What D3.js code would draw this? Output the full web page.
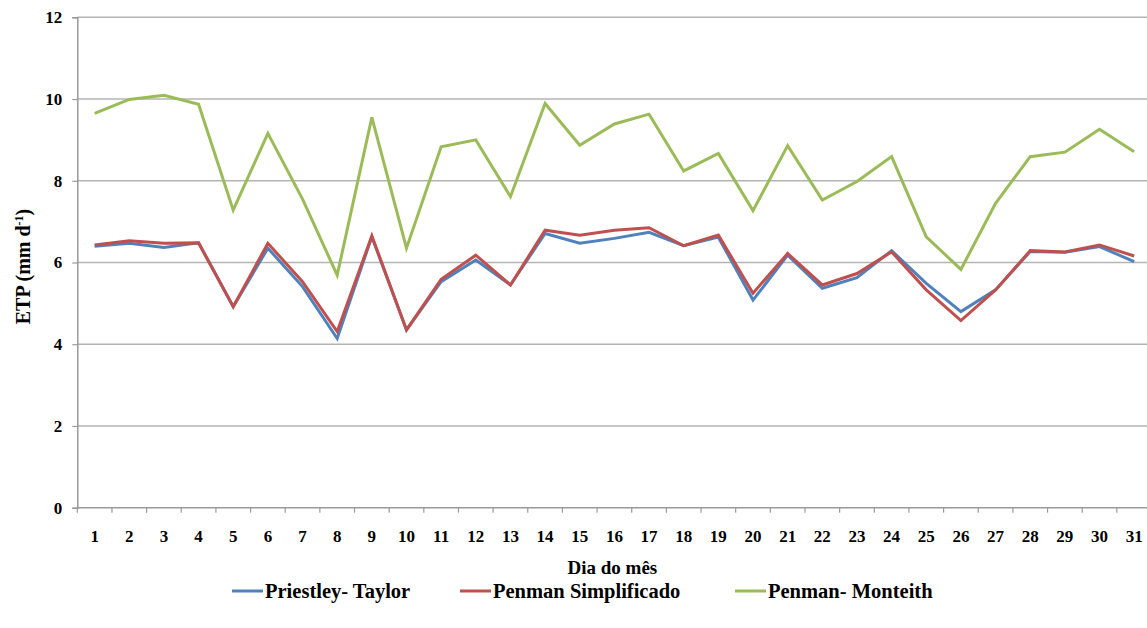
<!DOCTYPE html>
<html>
<head>
<meta charset="utf-8">
<script src="https://cdn.jsdelivr.net/npm/d3@7"></script>
<style>
  html, body { margin: 0; padding: 0; background: #fff; }
  svg { display: block; }
</style>
</head>
<body>
<svg id="chart" width="1147" height="628"></svg>
<script>
// Daily reference evapotranspiration (mm d-1) by three methods
const days = d3.range(1, 32);
const priestleyTaylor = [6.40, 6.47, 6.37, 6.48, 4.92, 6.35, 5.41, 4.14, 6.63, 4.35,
  5.53, 6.06, 5.45, 6.71, 6.47, 6.59, 6.74, 6.41, 6.62, 5.08,
  6.18, 5.37, 5.63, 6.29, 5.49, 4.80, 5.33, 6.27, 6.25, 6.39, 6.02];
const penmanSimplificado = [6.43, 6.53, 6.47, 6.48, 4.92, 6.47, 5.53, 4.31, 6.65, 4.35,
  5.59, 6.18, 5.45, 6.79, 6.67, 6.79, 6.85, 6.41, 6.67, 5.25,
  6.22, 5.45, 5.73, 6.26, 5.33, 4.58, 5.33, 6.29, 6.26, 6.43, 6.16];
const penmanMonteith = [9.65, 9.99, 10.09, 9.87, 7.28, 9.16, 7.55, 5.69, 9.55, 6.35,
  8.83, 9.00, 7.61, 9.89, 8.87, 9.39, 9.63, 8.24, 8.67, 7.27,
  8.86, 7.53, 7.98, 8.59, 6.63, 5.83, 7.45, 8.59, 8.70, 9.26, 8.71];
const yTicks = [0, 2, 4, 6, 8, 10, 12];

const series = [
  { name: "Priestley- Taylor", values: priestleyTaylor, color: "#4F81BD" },
  { name: "Penman Simplificado", values: penmanSimplificado, color: "#C0504D" },
  { name: "Penman- Monteith", values: penmanMonteith, color: "#9BBB59" }
];

const FONT = "'Liberation Serif', 'Times New Roman', Tinos, 'DejaVu Serif', serif";

const svg = d3.select("#chart");
const plot = { left: 77.3, right: 1151.5, top: 17.3, bottom: 507.7 };

const x = d3.scaleBand().domain(days).range([plot.left, plot.right]).padding(0);
const y = d3.scaleLinear().domain([0, 12]).range([plot.bottom, plot.top]);

function label(sel, size) {
  return sel.style("font-family", FONT).style("font-weight", "bold")
    .style("font-size", size + "px").attr("fill", "#000");
}

// horizontal gridlines
svg.append("g")
  .selectAll("line")
  .data(yTicks.filter(t => t > 0))
  .join("line")
  .attr("x1", plot.left).attr("x2", plot.right)
  .attr("y1", d => y(d)).attr("y2", d => y(d))
  .attr("stroke", "#b4b4b4").attr("stroke-width", 1.5);

// y axis
const yAxis = svg.append("g")
  .attr("transform", `translate(${plot.left},0)`)
  .call(d3.axisLeft(y).tickValues(yTicks).tickSize(5).tickPadding(10).tickFormat(d3.format("d")));
yAxis.attr("font-family", null);
yAxis.select(".domain").attr("stroke", "#9a9a9a").attr("stroke-width", 1.5);
yAxis.selectAll(".tick line").attr("stroke", "#9a9a9a").attr("stroke-width", 1.2);
label(yAxis.selectAll(".tick text"), 17);

// x axis: tick marks at category boundaries, labels at centres
const xAxisG = svg.append("g").attr("transform", `translate(0,${plot.bottom})`);
xAxisG.append("line")
  .attr("x1", plot.left).attr("x2", plot.right)
  .attr("stroke", "#9a9a9a").attr("stroke-width", 1.5);
xAxisG.selectAll("line.tk")
  .data(days)
  .join("line")
  .attr("class", "tk")
  .attr("x1", d => x(d)).attr("x2", d => x(d))
  .attr("y1", 0).attr("y2", 5)
  .attr("stroke", "#9a9a9a").attr("stroke-width", 1.2);
label(xAxisG.selectAll("text")
  .data(days)
  .join("text")
  .attr("x", d => x(d) + x.bandwidth() / 2)
  .attr("y", 34)
  .attr("text-anchor", "middle")
  .text(d => d), 17);

// series lines
const line = d3.line()
  .x((d, i) => x(days[i]) + x.bandwidth() / 2)
  .y(d => y(d));

svg.append("g")
  .selectAll("path")
  .data(series)
  .join("path")
  .attr("d", s => line(s.values))
  .attr("fill", "none")
  .attr("stroke", s => s.color)
  .attr("stroke-width", 3)
  .attr("stroke-linejoin", "miter");

// axis titles
label(svg.append("text")
  .attr("x", (plot.left + plot.right) / 2 - 2)
  .attr("y", 574)
  .attr("text-anchor", "middle")
  .text("Dia do mês"), 19);

const yTitle = label(svg.append("text")
  .attr("transform", `translate(30,${(plot.top + plot.bottom) / 2 + 4}) rotate(-90)`)
  .attr("text-anchor", "middle"), 20);
yTitle.append("tspan").text("ETP (mm d");
yTitle.append("tspan").attr("dy", -7).style("font-size", "12px").text("-1");
yTitle.append("tspan").attr("dy", 7).text(")");

// legend
const legendX = [232, 460, 735];
const legend = svg.append("g")
  .selectAll("g")
  .data(series)
  .join("g")
  .attr("transform", (s, i) => `translate(${legendX[i]},${591})`);
legend.append("line")
  .attr("x1", 0).attr("x2", 31)
  .attr("y1", 0).attr("y2", 0)
  .attr("stroke", s => s.color).attr("stroke-width", 3);
label(legend.append("text")
  .attr("x", 33)
  .attr("y", 7)
  .text(s => s.name), 20.5);
</script>
</body>
</html>
